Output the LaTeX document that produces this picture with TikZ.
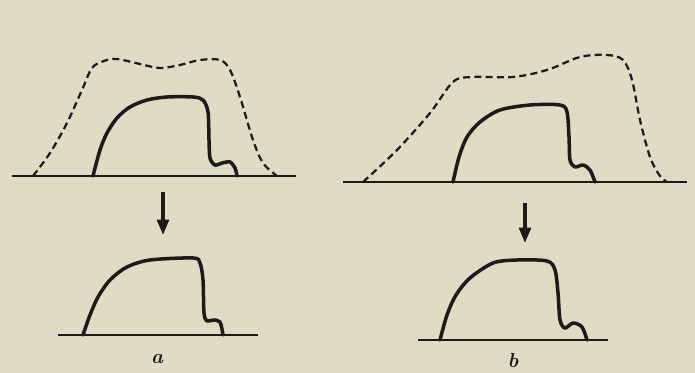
\documentclass[tikz,border=0pt]{standalone}
\usepackage{tikz}
\usetikzlibrary{arrows.meta}
\definecolor{paper}{HTML}{E0DBC5}
\definecolor{ink}{HTML}{1C1B19}

\begin{document}
\begin{tikzpicture}[
    x=0.025cm, y=-0.025cm,
    ground/.style={draw=ink,line width=1.7pt},
    profile/.style={draw=ink,line width=2.5pt,line join=round,line cap=round},
    envelope/.style={draw=ink,line width=1.6pt,dash pattern=on 5pt off 3pt},
    change/.style={draw=ink,line width=2.2pt,-{Triangle[length=11pt,width=8.5pt]}},
    tag/.style={text=ink,font=\Large\bfseries\itshape,inner sep=0pt}
  ]
  % paper
  \fill[paper] (0,0) rectangle (695,373);
  \useasboundingbox (0,0) rectangle (695,373);

  % case a, before
  \draw[ground] (12,176) -- (296,176);
  \draw[envelope] plot[smooth,tension=0.55] coordinates {
    (33,176) (50,153) (67,123) (82,90) (92,68) (104,61) (117,59)
    (140,64) (160,68) (180,65) (200,60) (220,60) (230,70)
    (240,97) (253,140) (263,163) (277,176)};
  \draw[profile] plot[smooth,tension=0.5] coordinates {
    (93,176) (100,150) (107,133) (117,118) (130,107) (147,100)
    (167,97) (193,97) (203,100) (208,112) (209,140) (210,158)
    (215,165) (222,163) (230,162) (235,168) (237,176)};

  % case b, before
  \draw[ground] (343,182) -- (687,182);
  \draw[envelope] plot[smooth,tension=0.55] coordinates {
    (363,182) (397,150) (430,113) (453,82) (472,77) (513,77)
    (547,70) (580,57) (607,55) (623,60) (632,80) (640,120)
    (650,157) (660,176) (667,182)};
  \draw[profile] plot[smooth,tension=0.5] coordinates {
    (453,182) (459,157) (467,137) (480,122) (500,110) (530,105)
    (560,105) (567,112) (569,137) (570,160) (575,167) (583,165)
    (590,170) (595,182)};

  % transitions
  \coordinate (aTop) at (163,192);
  \coordinate (aBot) at (163,235);
  \coordinate (bTop) at (525,203);
  \coordinate (bBot) at (525,243);
  \draw[change] (aTop) -- (aBot);
  \draw[change] (bTop) -- (bBot);

  % case a, after
  \draw[ground] (58,335) -- (258,335);
  \draw[profile] plot[smooth,tension=0.5] coordinates {
    (83,335) (90,315) (98,297) (110,280) (127,267) (150,260)
    (193,258) (200,263) (203,280) (204,313) (207,321) (213,320)
    (220,322) (223,335)};

  % case b, after
  \draw[ground] (418,340) -- (608,340);
  \draw[profile] plot[smooth,tension=0.5] coordinates {
    (440,340) (447,315) (456,295) (470,278) (493,263) (517,260)
    (547,261) (555,270) (558,293) (560,320) (565,328) (573,323)
    (582,327) (587,340)};

  % labels
  \node[tag] (la) at (157,359) {a};
  \node[tag] (lb) at (513,361) {b};
\end{tikzpicture}
\end{document}
